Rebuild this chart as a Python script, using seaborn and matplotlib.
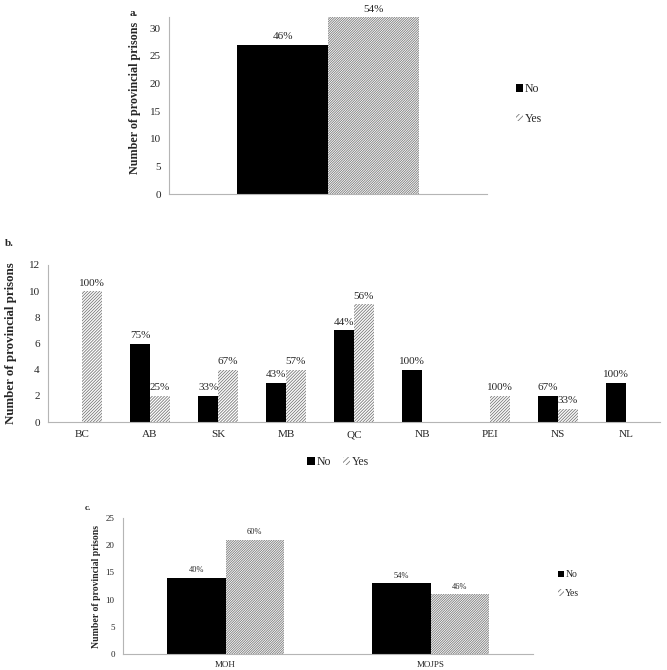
import matplotlib
matplotlib.use('Agg')
import matplotlib.pyplot as plt
import matplotlib.patches as mpatches
import seaborn as sns
import pandas as pd
import numpy as np

answers = ['No', 'Yes']

# a. todas las prisiones provinciales
overall = ['']
overall_no = [27]
overall_yes = [32]

# b. por provincia
provinces = ['BC', 'AB', 'SK', 'MB', 'QC', 'NB', 'PEI', 'NS', 'NL']
province_no = [0, 6, 2, 3, 7, 4, 0, 2, 3]
province_yes = [10, 2, 4, 4, 9, 0, 2, 1, 0]

# c. por ministerio
ministries = ['MOH', 'MOJPS']
ministry_no = [14, 13]
ministry_yes = [21, 11]

HATCH_GREY = '#7a7a7a'
AXIS_GREY = '#b5b5b5'
YLABEL = 'Number of provincial prisons'
FINE = '/' * 14
COARSE = '/' * 11

sns.set_style('white')
plt.rcParams['font.family'] = ['Liberation Serif', 'DejaVu Serif']
plt.rcParams['hatch.linewidth'] = 0.6


def long_table(cats, no, yes):
    return pd.DataFrame({
        'cat': list(cats) * 2,
        'answer': ['No'] * len(cats) + ['Yes'] * len(cats),
        'count': list(no) + list(yes),
    })


def draw_panel(ax, cats, no, yes, width, hatch, fs):
    df = long_table(cats, no, yes)
    sns.barplot(data=df, x='cat', y='count', hue='answer', order=cats,
                hue_order=answers, palette={'No': 'black', 'Yes': 'white'},
                width=width, saturation=1, linewidth=0, errorbar=None,
                legend=False, ax=ax)
    for p in ax.containers[1]:
        p.set_hatch(hatch)
        p.set_edgecolor(HATCH_GREY)
        p.set_linewidth(0)

    tot = np.array(no) + np.array(yes)
    for cont, vals in zip(ax.containers, (no, yes)):
        labels = [f'{round(100 * v / t)}%' if v > 0 else '' for v, t in zip(vals, tot)]
        ax.bar_label(cont, labels=labels, padding=2.5, fontsize=fs)

    ax.set_xlim(-0.5, len(cats) - 0.5)
    ax.set_xlabel('')
    for s in ['top', 'right']:
        ax.spines[s].set_visible(False)
    for s in ['left', 'bottom']:
        ax.spines[s].set_color(AXIS_GREY)
        ax.spines[s].set_linewidth(0.8)
    ax.tick_params(axis='y', length=3, width=0.8, color=AXIS_GREY, pad=3)
    # marcas entre categorías, como en Excel
    ax.set_xticks(np.arange(len(cats) + 1) - 0.5, minor=True)
    ax.tick_params(axis='x', which='major', length=0)
    ax.tick_params(axis='x', which='minor', length=4, width=0.8, color=AXIS_GREY)


def legend_handles(hatch):
    return [mpatches.Patch(facecolor='black', edgecolor='none'),
            mpatches.Patch(facecolor='white', hatch=hatch, edgecolor=HATCH_GREY, linewidth=0)]


fig = plt.figure(figsize=(6.67, 6.70), dpi=100)
W, H = 667, 670


def px_axes(left, top, right, bottom):
    return fig.add_axes([left / W, 1 - bottom / H, (right - left) / W, (bottom - top) / H])


# ---- a ----
ax_a = px_axes(169, 17, 487, 194)
draw_panel(ax_a, overall, overall_no, overall_yes, 0.57, FINE, 8)
ax_a.set_ylim(0, 32)
ax_a.set_yticks(range(0, 31, 5))
ax_a.tick_params(axis='x', which='minor', length=0)
ax_a.tick_params(axis='y', labelsize=8)
ax_a.set_ylabel(YLABEL, fontsize=8.7, fontweight='bold')
ax_a.yaxis.set_label_coords(-0.088, 0.54)
fig.legend(legend_handles('//////'), answers, loc='center left',
           bbox_to_anchor=(516 / W, 1 - 104 / H), frameon=False, fontsize=8.5,
           handlelength=0.6, handleheight=0.6, handletextpad=0.15,
           labelspacing=1.5, borderpad=0, borderaxespad=0)
fig.text(130 / W, 1 - 13 / H, 'a.', fontsize=8, fontweight='bold', va='center')

# ---- b ----
ax_b = px_axes(48, 265, 660, 422)
draw_panel(ax_b, provinces, province_no, province_yes, 0.58, COARSE, 8)
ax_b.set_ylim(0, 12)
ax_b.set_yticks(range(0, 13, 2))
ax_b.tick_params(axis='both', labelsize=8)
ax_b.tick_params(axis='x', which='major', pad=6)
ax_b.set_ylabel(YLABEL, fontsize=9.3, fontweight='bold')
ax_b.yaxis.set_label_coords(-0.051, 0.5)
fig.legend(legend_handles('//////'), answers, loc='center',
           bbox_to_anchor=(338 / W, 1 - 462 / H), frameon=False, fontsize=8.5, ncol=2,
           handlelength=0.6, handleheight=0.6, handletextpad=0.15,
           columnspacing=1.0, borderpad=0, borderaxespad=0)
fig.text(5 / W, 1 - 243 / H, 'b.', fontsize=8, fontweight='bold', va='center')

# ---- c ----
ax_c = px_axes(123, 518, 533, 654)
draw_panel(ax_c, ministries, ministry_no, ministry_yes, 0.57, FINE, 6)
ax_c.set_ylim(0, 25)
ax_c.set_yticks(range(0, 26, 5))
ax_c.tick_params(axis='both', labelsize=6.5)
ax_c.tick_params(axis='x', which='major', pad=5)
ax_c.set_ylabel(YLABEL, fontsize=7, fontweight='bold')
ax_c.yaxis.set_label_coords(-0.054, 0.5)
fig.legend(legend_handles('//////'), answers, loc='center left',
           bbox_to_anchor=(558 / W, 1 - 584 / H), frameon=False, fontsize=7,
           handlelength=0.6, handleheight=0.6, handletextpad=0.15,
           labelspacing=1.0, borderpad=0, borderaxespad=0)
fig.text(85 / W, 1 - 508 / H, 'c.', fontsize=6.5, fontweight='bold', va='center')

fig.savefig('out.png', dpi=100)
plt.close(fig)
